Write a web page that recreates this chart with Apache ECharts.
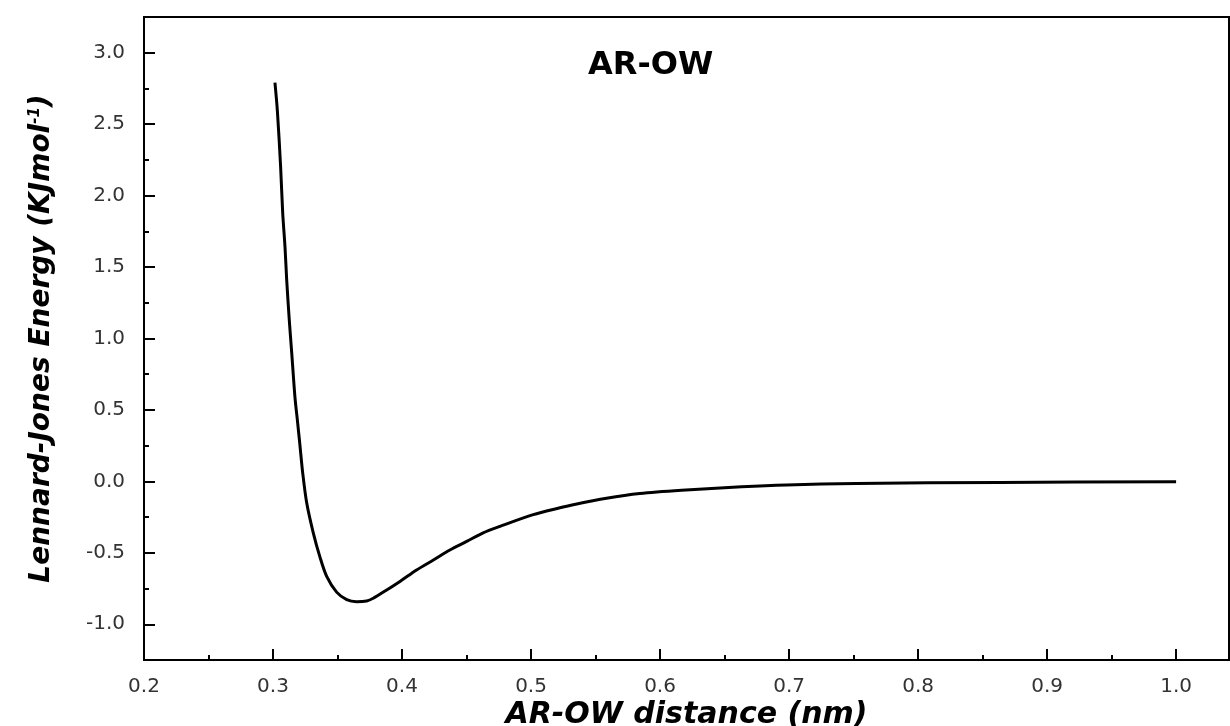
<!DOCTYPE html>
<html>
<head>
<meta charset="utf-8">
<title>AR-OW</title>
<script src="https://cdn.jsdelivr.net/npm/echarts@6/dist/echarts.min.js"></script>
<style>
html, body { margin: 0; padding: 0; background: #fff; }
#chart { width: 1230px; height: 726px; }
</style>
</head>
<body>
<div id="chart"></div>
<script>
// values
var distance = [0.3015, 0.3034, 0.3059, 0.3075, 0.3093, 0.3106, 0.3126, 0.3145, 0.317, 0.3191,
	0.3209, 0.323, 0.3261, 0.3312, 0.3364, 0.3416, 0.3493, 0.3571, 0.3648, 0.3726,
	0.3777, 0.3881, 0.3984, 0.4113, 0.4243, 0.4371, 0.4501, 0.4629, 0.4759, 0.5017,
	0.5224, 0.5327, 0.5585, 0.5843, 0.6167, 0.6632, 0.698, 0.7523, 0.8633, 1.0];
var energy = [2.79, 2.59, 2.20, 1.88, 1.64, 1.41, 1.13, 0.90, 0.59, 0.41,
	0.25, 0.06, -0.15, -0.36, -0.53, -0.665, -0.775, -0.828, -0.842, -0.837,
	-0.818, -0.76, -0.70, -0.62, -0.55, -0.48, -0.42, -0.36, -0.315, -0.233,
	-0.185, -0.163, -0.118, -0.085, -0.062, -0.038, -0.025, -0.014, -0.007, -0.003];

var xMajorTicks = [0.2, 0.3, 0.4, 0.5, 0.6, 0.7, 0.8, 0.9, 1.0];
var xMinorTicks = [0.25, 0.35, 0.45, 0.55, 0.65, 0.75, 0.85, 0.95];
var yMajorTicks = [-1.0, -0.5, 0.0, 0.5, 1.0, 1.5, 2.0, 2.5, 3.0];
var yMinorTicks = [-0.75, -0.25, 0.25, 0.75, 1.25, 1.75, 2.25, 2.75];

var FONT = 'DejaVu Sans';

function pairs(xs, ys) {
	var out = [];
	for (var i = 0; i < xs.length; i++) {
		out.push([xs[i], ys[i]]);
	}
	return out;
}

function fmt(v) {
	return Number(v).toFixed(1);
}

var option = {
	animation: false,
	backgroundColor: '#fff',
	title: {
		text: 'AR-OW',
		left: 588,
		top: 50,
		padding: 0,
		textStyle: { fontFamily: FONT, fontSize: 32, fontWeight: 'bold', color: '#000' }
	},
	grid: {
		left: 144, right: 1, top: 17, bottom: 66,
		outerBoundsMode: 'none',
		containLabel: false,
		show: true, borderColor: '#000', borderWidth: 2
	},
	xAxis: [{
		type: 'value',
		min: 0.2, max: 1.041,
		name: 'AR-OW distance (nm)',
		nameLocation: 'middle',
		nameGap: 40,
		nameMoveOverlap: false,
		nameTextStyle: { fontFamily: FONT, fontSize: 30, fontWeight: 'bold', fontStyle: 'italic', color: '#000' },
		axisLine: { onZero: false, lineStyle: { color: '#000', width: 2 } },
		axisTick: { inside: true, length: 11, customValues: xMajorTicks, lineStyle: { color: '#000', width: 2 } },
		axisLabel: { margin: 17, customValues: xMajorTicks, formatter: fmt, fontFamily: FONT, fontSize: 20, color: '#333' },
		splitLine: { show: false }
	}, {
		type: 'value',
		position: 'bottom',
		min: 0.2, max: 1.041,
		axisLine: { show: false, onZero: false },
		axisTick: { inside: true, length: 5, customValues: xMinorTicks, lineStyle: { color: '#000', width: 2 } },
		axisLabel: { show: false },
		splitLine: { show: false }
	}],
	yAxis: [{
		type: 'value',
		min: -1.25, max: 3.25,
		name: 'Lennard-Jones Energy (KJmol{sup|-1})',
		nameLocation: 'middle',
		nameGap: 88,
		nameMoveOverlap: false,
		nameTextStyle: {
			fontFamily: FONT, fontSize: 28, fontWeight: 'bold', fontStyle: 'italic', color: '#000',
			rich: {
				sup: { fontFamily: FONT, fontSize: 15, fontWeight: 'bold', fontStyle: 'italic', color: '#000', verticalAlign: 'top' }
			}
		},
		axisLine: { onZero: false, lineStyle: { color: '#000', width: 2 } },
		axisTick: { inside: true, length: 11, customValues: yMajorTicks, lineStyle: { color: '#000', width: 2 } },
		axisLabel: { margin: 19, customValues: yMajorTicks, formatter: fmt, fontFamily: FONT, fontSize: 20, color: '#333' },
		splitLine: { show: false }
	}, {
		type: 'value',
		position: 'left',
		min: -1.25, max: 3.25,
		axisLine: { show: false, onZero: false },
		axisTick: { inside: true, length: 5, customValues: yMinorTicks, lineStyle: { color: '#000', width: 2 } },
		axisLabel: { show: false },
		splitLine: { show: false }
	}],
	series: [{
		name: 'AR-OW',
		type: 'line',
		xAxisIndex: 0,
		yAxisIndex: 0,
		data: pairs(distance, energy),
		showSymbol: false,
		smooth: 0.3,
		lineStyle: { color: '#000', width: 3 }
	}]
};

var myChart = echarts.init(document.getElementById('chart'));
myChart.setOption(option);
</script>
</body>
</html>
